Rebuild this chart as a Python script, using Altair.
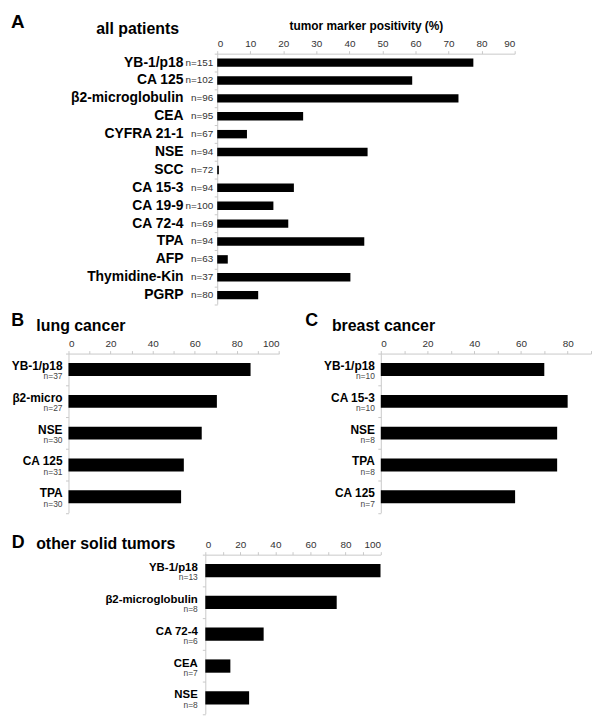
import altair as alt
import pandas as pd

FONT = "Liberation Sans"

# ---------------- data ----------------
a_markers = ["YB-1/p18", "CA 125", "β2-microglobulin", "CEA", "CYFRA 21-1", "NSE", "SCC",
             "CA 15-3", "CA 19-9", "CA 72-4", "TPA", "AFP", "Thymidine-Kin", "PGRP"]
a_n = ["n=151", "n=102", "n=96", "n=95", "n=67", "n=94", "n=72",
       "n=94", "n=100", "n=69", "n=94", "n=63", "n=37", "n=80"]
a_pos = [77.5, 59.0, 73.0, 26.0, 9.0, 45.5, 0.5, 23.2, 17.0, 21.5, 44.5, 3.2, 40.3, 12.4]

b_markers = ["YB-1/p18", "β2-micro", "NSE", "CA 125", "TPA"]
b_n = ["n=37", "n=27", "n=30", "n=31", "n=30"]
b_pos = [86.5, 70.5, 63.3, 54.8, 53.5]

c_markers = ["YB-1/p18", "CA 15-3", "NSE", "TPA", "CA 125"]
c_n = ["n=10", "n=10", "n=8", "n=8", "n=7"]
c_pos = [70.0, 80.0, 75.5, 75.5, 57.5]

d_markers = ["YB-1/p18", "β2-microglobulin", "CA 72-4", "CEA", "NSE"]
d_n = ["n=13", "n=8", "n=6", "n=7", "n=8"]
d_pos = [100.0, 75.0, 33.3, 14.3, 25.0]

a_ticks = [0, 10, 20, 30, 40, 50, 60, 70, 80, 90]
b_ticks = [0, 10, 20, 30, 40, 50, 60, 70, 80, 90, 100]
c_ticks = [0, 10, 20, 30, 40, 50, 60, 70, 80, 90]
d_ticks = [0, 10, 20, 30, 40, 50, 60, 70, 80, 90, 100]


def spacer(w, h=1):
    return alt.Chart(pd.DataFrame({"v": [0]})).mark_point(opacity=0).encode(
        x=alt.value(0), y=alt.value(0)).properties(width=w, height=h)


def panel(markers, ns, vals, width, height, xmax, ticks, label_expr, letter, title,
          letter_xy, title_xy, letter_fs, title_fs, cat_x, cat_fs, n_fs, two_line,
          bar_size, axis_title=None, n_x=None):
    df = pd.DataFrame({"marker": markers, "n": ns, "pos": vals})
    yenc = alt.Y("marker:N", sort=markers,
                 scale=alt.Scale(paddingInner=0, paddingOuter=0),
                 axis=alt.Axis(labels=False, ticks=True, tickBand="extent", tickSize=3,
                               tickColor="#c8c8c8", domainColor="#c8c8c8", title=None,
                               grid=False))
    xaxis_kw = dict(orient="top", values=ticks, labelExpr=label_expr, tickSize=3,
                    tickColor="#c8c8c8", domainColor="#c8c8c8", labelFont=FONT,
                    labelFontSize=10, labelColor="#333333", labelPadding=2, grid=False)
    if axis_title:
        xaxis_kw.update(title=axis_title, titleFont=FONT, titleFontSize=12,
                        titleFontWeight="bold", titleColor="black", titlePadding=6)
    else:
        xaxis_kw.update(title=None)
    xenc = alt.X("pos:Q", scale=alt.Scale(domain=[0, xmax], nice=False),
                 axis=alt.Axis(**xaxis_kw))
    bars = alt.Chart(df).mark_bar(color="black", size=bar_size).encode(x=xenc, y=yenc)

    ysimple = alt.Y("marker:N", sort=markers)
    if two_line:
        cat = alt.Chart(df).mark_text(align="right", baseline="alphabetic", dy=0.5,
                                      font=FONT, fontWeight="bold", fontSize=cat_fs,
                                      color="black").encode(
            y=ysimple, x=alt.value(cat_x), text="marker:N")
        nn = alt.Chart(df).mark_text(align="right", baseline="alphabetic", dy=9.8,
                                     font=FONT, fontSize=n_fs, color="#444444").encode(
            y=ysimple, x=alt.value(cat_x), text="n:N")
    else:
        cat = alt.Chart(df).mark_text(align="right", baseline="middle", font=FONT,
                                      fontWeight="bold", fontSize=cat_fs,
                                      color="black").encode(
            y=ysimple, x=alt.value(cat_x), text="marker:N")
        nn = alt.Chart(df).mark_text(align="right", baseline="middle", font=FONT,
                                     fontSize=n_fs, color="#333333").encode(
            y=ysimple, x=alt.value(n_x), text="n:N")

    let = alt.Chart(pd.DataFrame({"t": [letter]})).mark_text(
        align="left", baseline="alphabetic", font=FONT, fontWeight="bold",
        fontSize=letter_fs, color="black").encode(
        x=alt.value(letter_xy[0]), y=alt.value(letter_xy[1]), text="t:N")
    tit = alt.Chart(pd.DataFrame({"t": [title]})).mark_text(
        align="left", baseline="alphabetic", font=FONT, fontWeight="bold",
        fontSize=title_fs, color="black").encode(
        x=alt.value(title_xy[0]), y=alt.value(title_xy[1]), text="t:N")

    return alt.layer(bars, cat, nn, let, tit).properties(width=width, height=height)


lab_all = "datum.label"
lab_20 = "datum.value % 20 == 0 ? datum.label : ''"

pA = panel(a_markers, a_n, a_pos, 300, 252.6, 90, a_ticks, lab_all,
           "A", "all patients", (-208, -25.7), (-122, -20.2), 19, 16,
           -34, 14, 10, False, 8.5, axis_title="tumor marker positivity (%)", n_x=-4)
pB = panel(b_markers, b_n, b_pos, 212.3, 160.5, 100, b_ticks, lab_20,
           "B", "lung cancer", (-57.7, -27.7), (-32.4, -22.7), 18, 16,
           -6, 12, 8.5, True, 13)
pC = panel(c_markers, c_n, c_pos, 212, 160.5, 90, c_ticks, lab_20,
           "C", "breast cancer", (-76.3, -27.7), (-49.3, -22.7), 18, 16,
           -6, 12, 8.5, True, 13)
pD = panel(d_markers, d_n, d_pos, 176.7, 160.5, 100, d_ticks, lab_20,
           "D", "other solid tumors", (-195.3, -6.6), (-170.6, -5.3), 18, 16,
           -7.6, 11.5, 8.5, True, 13.4)

rowA = alt.hconcat(spacer(208), pA, spacing=0, bounds="flush")
rowBC = alt.hconcat(spacer(57.7), pB, spacer(101.3), pC, spacing=0, bounds="flush")
rowD = alt.hconcat(spacer(195.3), pD, spacing=0, bounds="flush")

chart = alt.vconcat(
    alt.vconcat(rowA, rowBC, spacing=6.5),
    rowD,
    spacing=20.3,
).properties(padding={"top": 2, "left": 0, "right": 0, "bottom": 0}).configure_view(
    stroke=None)

chart.save("out.html", embed_options={"renderer": "svg", "actions": False})
